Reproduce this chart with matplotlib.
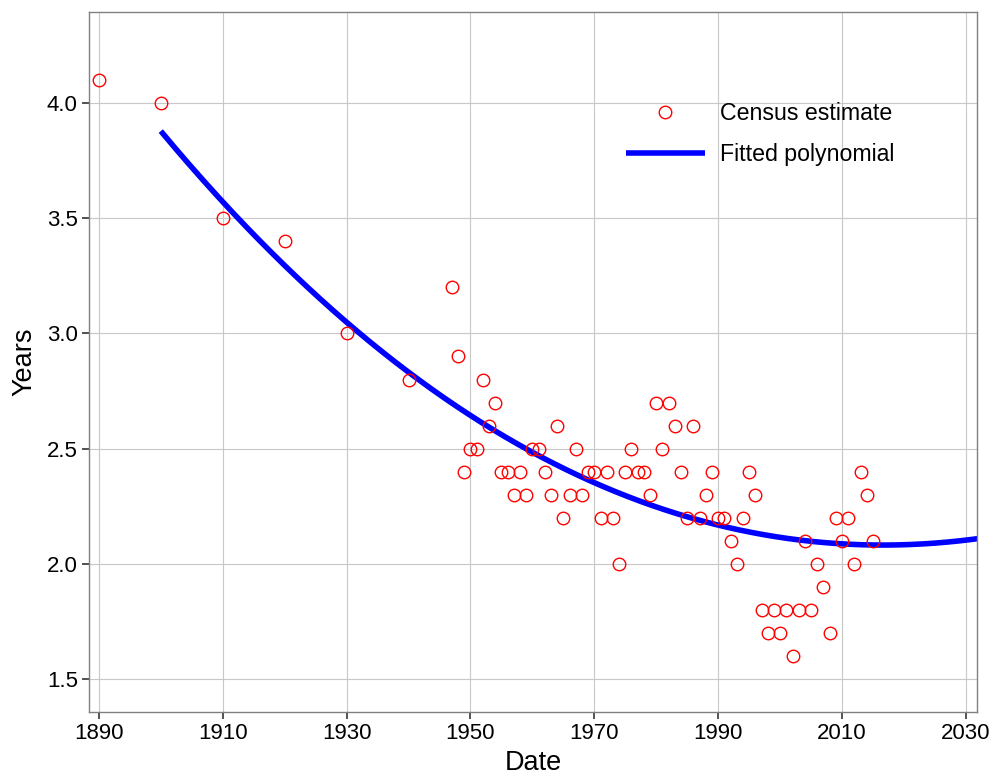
import numpy as np
import matplotlib
matplotlib.use("Agg")
import matplotlib.pyplot as plt

plt.rcParams['font.family'] = ['Liberation Sans', 'DejaVu Sans']

years = [1890, 1900, 1910, 1920, 1930, 1940,
         1947, 1948, 1949, 1950, 1951, 1952, 1953, 1954, 1955, 1956, 1957, 1958, 1959,
         1960, 1961, 1962, 1963, 1964, 1965, 1966, 1967, 1968, 1969,
         1970, 1971, 1972, 1973, 1974, 1975, 1976, 1977, 1978, 1979,
         1980, 1981, 1982, 1983, 1984, 1985, 1986, 1987, 1988, 1989,
         1990, 1991, 1992, 1993, 1994, 1995, 1996, 1997, 1998, 1999,
         2000, 2001, 2002, 2003, 2004, 2005, 2006, 2007, 2008, 2009,
         2010, 2011, 2012, 2013, 2014, 2015]
values = [4.1, 4.0, 3.5, 3.4, 3.0, 2.8,
          3.2, 2.9, 2.4, 2.5, 2.5, 2.8, 2.6, 2.7, 2.4, 2.4, 2.3, 2.4, 2.3,
          2.5, 2.5, 2.4, 2.3, 2.6, 2.2, 2.3, 2.5, 2.3, 2.4,
          2.4, 2.2, 2.4, 2.2, 2.0, 2.4, 2.5, 2.4, 2.4, 2.3,
          2.7, 2.5, 2.7, 2.6, 2.4, 2.2, 2.6, 2.2, 2.3, 2.4,
          2.2, 2.2, 2.1, 2.0, 2.2, 2.4, 2.3, 1.8, 1.7, 1.8,
          1.7, 1.8, 1.6, 1.8, 2.1, 1.8, 2.0, 1.9, 1.7, 2.2,
          2.1, 2.2, 2.0, 2.4, 2.3, 2.1]

# Fitted polynomial: curve values
fit_years = [1900, 1910, 1930, 1950, 1970, 1990, 2010, 2030]
fit_values = [3.865, 3.59, 3.05, 2.638, 2.342, 2.176, 2.092, 2.099]
fit_start, fit_end = 1900, 2032

x_ticks = [1890, 1910, 1930, 1950, 1970, 1990, 2010, 2030]
y_ticks = [1.5, 2.0, 2.5, 3.0, 3.5, 4.0]

coef = np.polyfit(fit_years, fit_values, 3)
fit_x = np.linspace(fit_start, fit_end, 400)
fit_y = np.polyval(coef, fit_x)

fig = plt.figure(figsize=(9.95, 7.75), dpi=100)
ax = fig.add_axes([0.0894, 0.0813, 0.8926, 0.9032])

ax.plot(years, values, linestyle='none', marker='o', markersize=9,
        markerfacecolor='none', markeredgecolor='red', markeredgewidth=1.0,
        label='Census estimate', zorder=3)
ax.plot(fit_x, fit_y, color='blue', linewidth=4.0, label='Fitted polynomial',
        zorder=2, solid_capstyle='butt')

ax.set_xlim(1888.4, 2031.8)
ax.set_ylim(1.357, 4.395)
ax.set_xticks(x_ticks)
ax.set_yticks(y_ticks)
ax.set_yticklabels([f"{v:.1f}" for v in y_ticks])
ax.grid(True, color='#c8c8c8', linewidth=0.8)
ax.set_axisbelow(True)
for s in ax.spines.values():
    s.set_color('#808080')
    s.set_linewidth(1.0)
ax.tick_params(axis='both', direction='out', length=5, width=1.2, color='#333333',
               labelsize=16, labelcolor='black', pad=3)
ax.set_xlabel('Date', fontsize=19.5, labelpad=4)
ax.set_ylabel('Years', fontsize=19.5, labelpad=7)

leg = ax.legend(loc='upper left', bbox_to_anchor=(0.5816, 0.9007), frameon=False,
                fontsize=16.7, handlelength=3.37, handletextpad=0.65, labelspacing=0.76)

fig.savefig('out.png', dpi=100)
